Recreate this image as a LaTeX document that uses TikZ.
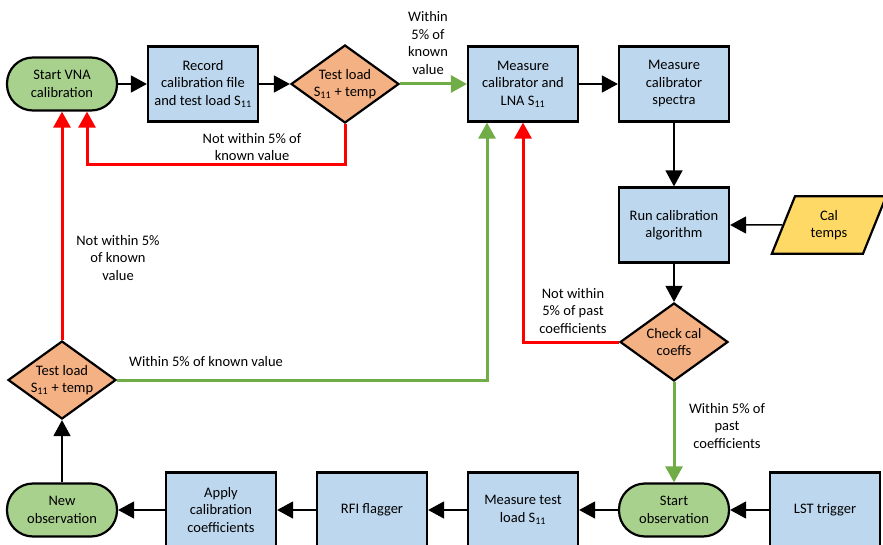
\documentclass[tikz,border=0pt]{standalone}
\usepackage{fontspec}
\setmainfont{Carlito}
\usetikzlibrary{arrows.meta,shapes.geometric,positioning}
\definecolor{termgreen}{HTML}{A9D18E}
\definecolor{procblue}{HTML}{BDD7EE}
\definecolor{decorange}{HTML}{F4B183}
\definecolor{datayellow}{HTML}{FFD966}
\definecolor{yesgreen}{HTML}{70AD47}

\begin{document}
\begin{tikzpicture}[x=1pt, y=-1pt,
    every node/.style={font=\fontsize{14.5}{17.5}\selectfont},
    term/.style={draw=black, line width=2.2pt, fill=termgreen, rounded corners=26pt, minimum width=110pt, minimum height=53pt, align=center},
    proc/.style={draw=black, line width=2.2pt, fill=procblue, minimum width=110pt, minimum height=75pt, align=center},
    dec/.style={draw=black, line width=2.2pt, fill=decorange, diamond, aspect=1.4, inner sep=0pt, minimum width=108pt, minimum height=78pt, align=center},
    io/.style={draw=black, line width=2.2pt, fill=datayellow, trapezium, trapezium left angle=68, trapezium right angle=112, minimum width=115pt, minimum height=37pt, align=center},
    flow/.style={-{Triangle[length=16pt,width=17pt]}, line width=1.5pt},
    yes/.style={flow, line width=3pt, yesgreen},
    no/.style={flow, line width=3pt, red},
    lbl/.style={align=center}
]
\useasboundingbox (0,0) rectangle (883,545);

% top row
\node[term] (vna) at (62,84) {Start VNA\\calibration};
\node[proc] (rec) at (203,84) {Record\\calibration file\\and test load S\textsubscript{11}};
\node[dec] (testtop) at (345,84) {Test load\\S\textsubscript{11} + temp};
\node[proc] (meascal) at (523,84) {Measure\\calibrator and\\LNA S\textsubscript{11}};
\node[proc] (spec) at (674,84) {Measure\\calibrator\\spectra};

% right column
\node[proc] (runcal) at (674,225) {Run calibration\\algorithm};
\node[io] (temps) at (829,225) {Cal\\temps};
\node[dec] (check) at (674,342) {Check cal\\coeffs};

% bottom row
\node[term] (startobs) at (674,510) {Start\\observation};
\node[proc] (lst) at (825,510) {LST trigger};
\node[proc] (meastest) at (523,510) {Measure test\\load S\textsubscript{11}};
\node[proc] (rfi) at (372,510) {RFI flagger};
\node[proc] (apply) at (221,510) {Apply\\calibration\\coefficients};
\node[term] (newobs) at (62,510) {New\\observation};
\node[dec] (testbot) at (62,380) {Test load\\S\textsubscript{11} + temp};

\coordinate (loop) at (345,165);

\draw[flow] (vna) -- (rec);
\draw[flow] (rec) -- (testtop);
\draw[yes] (testtop) -- (meascal);
\draw[flow] (meascal) -- (spec);
\draw[flow] (spec) -- (runcal);
\draw[flow] (temps) -- (runcal);
\draw[flow] (runcal) -- (check);
\draw[no] (check.west) -| (meascal.south);
\draw[yes] (check) -- (startobs);
\draw[flow] (lst) -- (startobs);
\draw[flow] (startobs) -- (meastest);
\draw[flow] (meastest) -- (rfi);
\draw[flow] (rfi) -- (apply);
\draw[flow] (apply) -- (newobs);
\draw[flow] (newobs) -- (testbot);
\draw[no] (testbot) -- (vna);
\draw[no] (testtop.south) -- (loop) -| ([xshift=25pt]vna.south);
\draw[yes] (testbot.east) -| ([xshift=-36pt]meascal.south);

% edge labels
\node[lbl] (knowntop) at (428,43) {Within\\5\% of\\known\\value};
\node[lbl] (notknowntop) at (252,147) {Not within 5\% of\\known value};
\node[lbl] (notknownleft) at (118,258) {Not within 5\%\\of known\\value};
\node[lbl] (knownbot) at (206,362) {Within 5\% of known value};
\node[lbl] (notpast) at (573,311) {Not within\\5\% of past\\coefficients};
\node[lbl] (past) at (727,426) {Within 5\% of\\past\\coefficients};
\end{tikzpicture}
\end{document}
